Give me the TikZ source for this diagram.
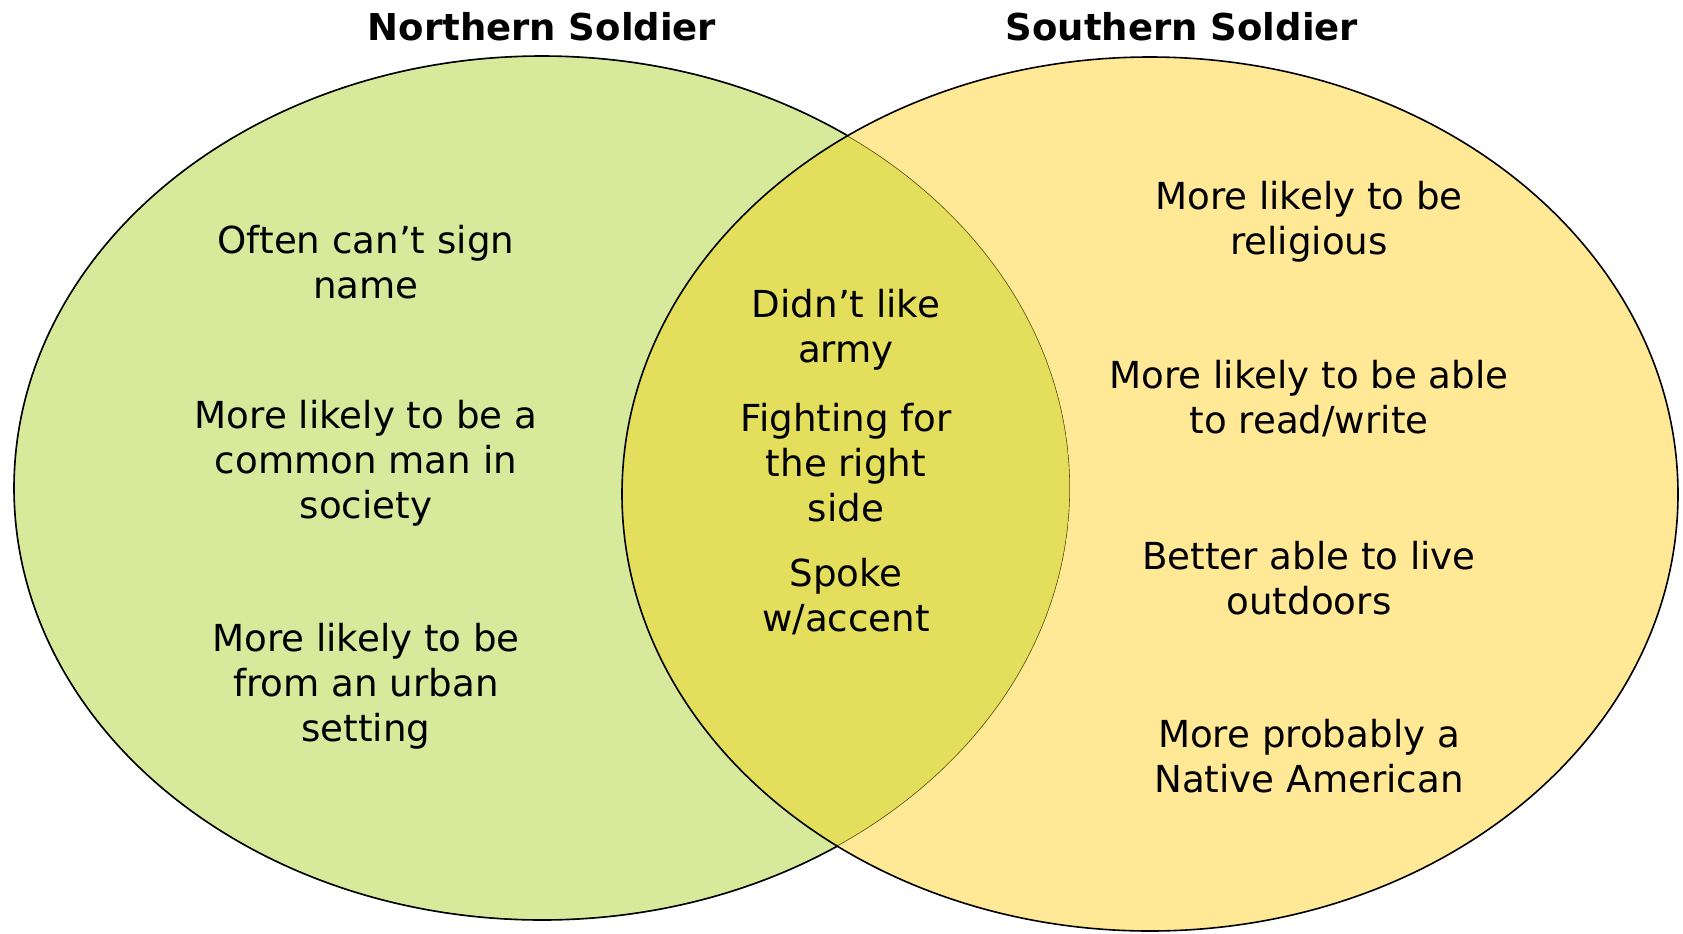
\documentclass[tikz,border=0pt]{standalone}
\usepackage{fontspec}
\setmainfont{DejaVu Sans}
\usetikzlibrary{math}
\definecolor{northgreen}{RGB}{215,233,154}
\definecolor{southyellow}{RGB}{255,232,150}
\definecolor{bothyellow}{RGB}{228,222,93}
\definecolor{overlapline}{RGB}{90,75,10}

\tikzset{
  fact/.style={align=center, font=\fontsize{18.6}{22.5}\selectfont},
  heading/.style={font=\fontsize{18.5}{22}\selectfont\bfseries}
}

\begin{document}
\begin{tikzpicture}[x=0.5pt,y=-0.5pt]
\tikzmath{
\Rx=528; \Ry=432; \Sy=437;
}
\useasboundingbox (0,0) rectangle (1683,933);

\fill[northgreen] (542,488) ellipse [x radius=\Rx, y radius=\Ry];
\fill[southyellow] (1150,494) ellipse [x radius=\Rx, y radius=\Sy];
\begin{scope}
\clip (542,488) ellipse [x radius=\Rx, y radius=\Ry];
\fill[bothyellow] (1150,494) ellipse [x radius=\Rx, y radius=\Sy];
\draw[overlapline, line width=0.6] (542,488) ellipse [x radius=\Rx, y radius=\Ry];
\end{scope}
\begin{scope}
\clip (0,0) rectangle (1683,933);
\draw[line width=0.8] (1150,494) ellipse [x radius=\Rx, y radius=\Sy];
\end{scope}
\begin{scope}[even odd rule]
\clip (0,0) rectangle (1683,933) (1150,494) ellipse [x radius=\Rx, y radius=\Sy];
\draw[line width=0.8] (542,488) ellipse [x radius=\Rx, y radius=\Ry];
\end{scope}

% headings
\node[heading] (north) at (542,27) {Northern Soldier};
\node[heading] (south) at (1182,27) {Southern Soldier};

% northern only
\node[fact] (sign) at (366,262) {Often can’t sign\\name};
\node[fact] (common) at (366,463) {More likely to be a\\common man in\\society};
\node[fact] (urban) at (366,686) {More likely to be\\from an urban\\setting};

% both
\node[fact] (army) at (846,330) {Didn’t like\\army};
\node[fact] (right) at (846,463) {Fighting for\\the right\\side};
\node[fact] (accent) at (846,597) {Spoke\\w/accent};

% southern only
\node[fact] (religious) at (1309,222) {More likely to be\\religious};
\node[fact] (read) at (1309,399) {More likely to be able\\to read/write};
\node[fact] (outdoors) at (1309,578) {Better able to live\\outdoors};
\node[fact] (native) at (1309,756) {More probably a\\Native American};
\end{tikzpicture}
\end{document}
